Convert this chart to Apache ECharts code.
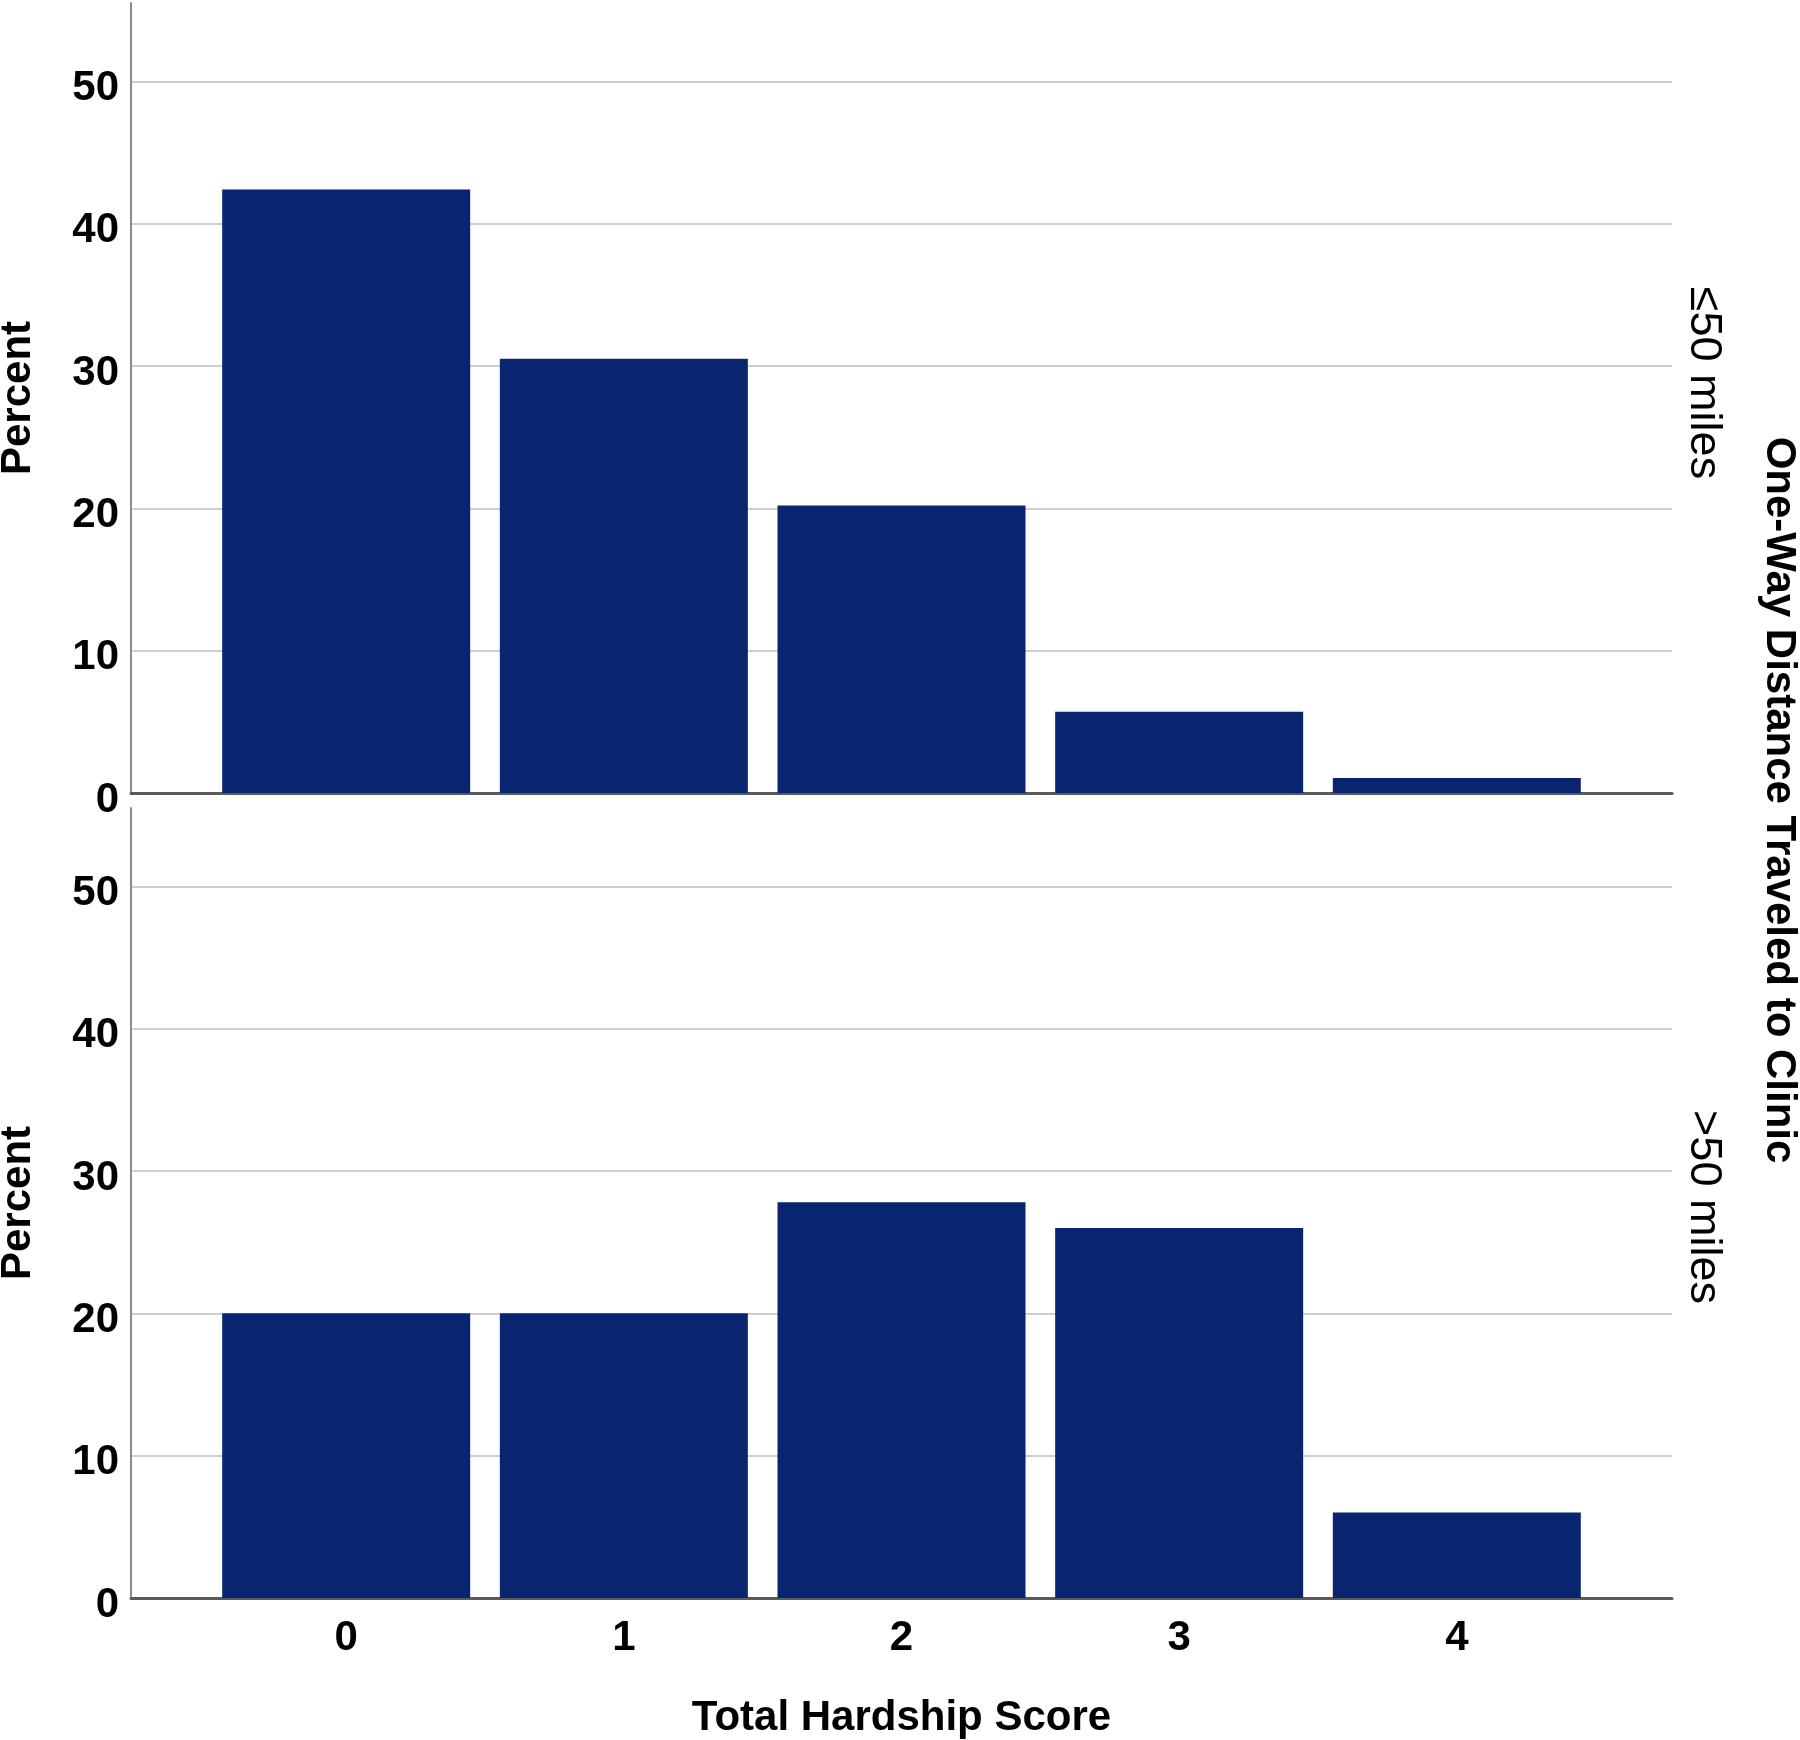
<!DOCTYPE html>
<html>
<head>
<meta charset="utf-8">
<script src="https://cdn.jsdelivr.net/npm/echarts@6/dist/echarts.min.js"></script>
<style>
html,body{margin:0;padding:0;background:#fff;}
#chart{width:1800px;height:1740px;}
</style>
</head>
<body>
<div id="chart"></div>
<script>
// ---- data ----
const scores = [0, 1, 2, 3, 4];
const pctNear = [42.4, 30.5, 20.2, 5.7, 1.05];   // <=50 miles
const pctFar  = [20.0, 20.0, 27.8, 26.0, 6.0];   // >50 miles
const yTicks = [0, 10, 20, 30, 40, 50];
const panelLabels = ['\u226450 miles', '>50 miles'];
const xTitle = 'Total Hardship Score';
const yTitle = 'Percent';
const facetTitle = 'One-Way Distance Traveled to Clinic';

const FONT = "'Liberation Sans', Arial, sans-serif";
const BAR = '#0a256f';

function mkX(idx, showLabels) {
  return {
    gridIndex: idx, type: 'value', min: -0.775, max: 4.775,
    axisLine: { show: true, onZero: false, lineStyle: { color: '#5a5a5a', width: 3 } },
    axisTick: { show: false },
    splitLine: { show: false },
    axisLabel: {
      show: showLabels, margin: 19, fontSize: 42, fontWeight: 'bold', color: '#000', fontFamily: FONT,
      showMinLabel: false, showMaxLabel: false,
      formatter: v => scores.includes(v) ? String(v) : ''
    },
    name: showLabels ? xTitle : '', nameLocation: 'middle', nameGap: 99,
    nameTextStyle: { fontSize: 42, fontWeight: 'bold', color: '#000', fontFamily: FONT }
  };
}
function mkY(idx) {
  return {
    gridIndex: idx, type: 'value', min: 0, max: 55.5, interval: 10,
    axisLine: { show: true, onZero: false, lineStyle: { color: '#8a8a8a', width: 2 } },
    axisTick: { show: false },
    splitLine: { show: true, showMinLine: false, showMaxLine: false, lineStyle: { color: '#cfcfcf', width: 2 } },
    axisLabel: {
      margin: 12, color: '#000', showMaxLabel: false,
      formatter: v => yTicks.includes(v) ? '{t|' + v + '}' : '',
      rich: { t: { fontSize: 42, fontWeight: 'bold', color: '#000', fontFamily: FONT, padding: [14, 0, 0, 0] } }
    },
    name: yTitle, nameLocation: 'middle', nameGap: 92, nameRotate: 90,
    nameTextStyle: { fontSize: 42, fontWeight: 'bold', color: '#000', fontFamily: FONT }
  };
}

const chart = echarts.init(document.getElementById('chart'), null, { renderer: 'canvas' });
chart.setOption({
  animation: false,
  backgroundColor: '#fff',
  grid: [
    { left: 131, right: 128, top: 3, height: 790, containLabel: false, outerBoundsMode: 'none' },
    { left: 131, right: 128, top: 808, height: 790, containLabel: false, outerBoundsMode: 'none' }
  ],
  xAxis: [mkX(0, false), mkX(1, true)],
  yAxis: [mkY(0), mkY(1)],
  series: [
    { type: 'bar', xAxisIndex: 0, yAxisIndex: 0, barWidth: 248, itemStyle: { color: BAR },
      data: scores.map((s, i) => [s, pctNear[i]]) },
    { type: 'bar', xAxisIndex: 1, yAxisIndex: 1, barWidth: 248, itemStyle: { color: BAR },
      data: scores.map((s, i) => [s, pctFar[i]]) }
  ],
  graphic: [
    { type: 'text', x: 1703, y: 383, rotation: -Math.PI / 2,
      style: { text: panelLabels[0], fontSize: 45, fontFamily: FONT, fill: '#000', align: 'center', verticalAlign: 'middle' } },
    { type: 'text', x: 1703, y: 1207, rotation: -Math.PI / 2,
      style: { text: panelLabels[1], fontSize: 45, fontFamily: FONT, fill: '#000', align: 'center', verticalAlign: 'middle' } },
    { type: 'text', x: 1779, y: 800, rotation: -Math.PI / 2,
      style: { text: facetTitle, fontSize: 42, fontWeight: 'bold', fontFamily: FONT, fill: '#000', align: 'center', verticalAlign: 'middle' } }
  ]
});
</script>
</body>
</html>
